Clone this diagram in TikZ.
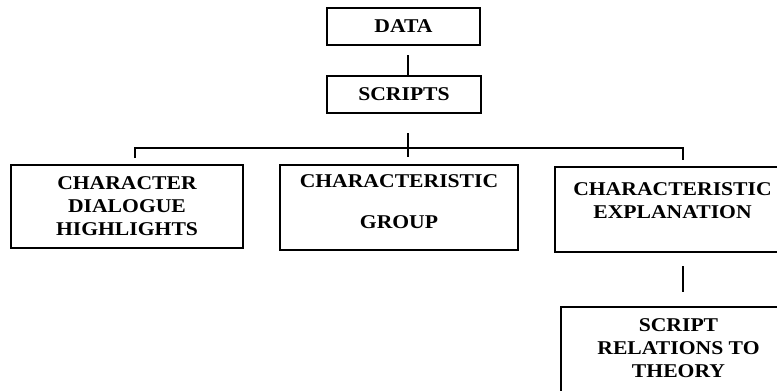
\documentclass[tikz,border=0pt]{standalone}
\usepackage{fontspec}
\setmainfont{Liberation Serif}[FakeStretch=1.11]
\usepackage{tikz}
\usetikzlibrary{positioning}

\tikzset{
  blockbox/.style={draw, line width=1.1pt, inner sep=0pt, align=center,
    font=\bfseries\fontsize{19.5}{23}\selectfont},
  link/.style={line width=1.1pt}
}

\begin{document}
\begin{tikzpicture}[x=1pt,y=-1pt]
  \useasboundingbox (0,0) rectangle (777,391);
  \clip (0,0) rectangle (777,391);

  \node[blockbox, minimum width=153pt, minimum height=37pt] (data) at (403.5,26.5) {DATA};
  \node[blockbox, minimum width=154pt, minimum height=37pt] (scripts) at (404,94.5) {SCRIPTS};

  \node[blockbox, minimum width=232pt, minimum height=83pt] (dialogue) at (127,206.5)
    {CHARACTER\\DIALOGUE\\HIGHLIGHTS};
  \node[blockbox, minimum width=238pt, minimum height=85pt, text depth=11pt] (group) at (399,207.5)
    {CHARACTERISTIC\\[18pt]GROUP};
  \node[blockbox, minimum width=235pt, minimum height=85pt, text depth=17pt] (explain) at (672.5,209.5)
    {CHARACTERISTIC\\EXPLANATION};
  \node[blockbox, minimum width=235pt, minimum height=93pt, text depth=11pt] (theory) at (678.5,353.5)
    {SCRIPT\\RELATIONS TO\\THEORY};

  \coordinate (d0) at (408,55);
  \coordinate (s0) at (408,133);
  \coordinate (s1) at (408,157);
  \coordinate (barl) at (135,148);
  \coordinate (barr) at (683,148);
  \coordinate (l1) at (135,158);
  \coordinate (r1) at (683,160);
  \coordinate (e0) at (683,266);
  \coordinate (e1) at (683,292);

  \draw[link] (d0) -- (d0 |- scripts.north);
  \draw[link] (s0) -- (s1);
  \draw[link] (l1) -- (barl) -- (barr) -- (r1);
  \draw[link] (e0) -- (e1);
\end{tikzpicture}
\end{document}
